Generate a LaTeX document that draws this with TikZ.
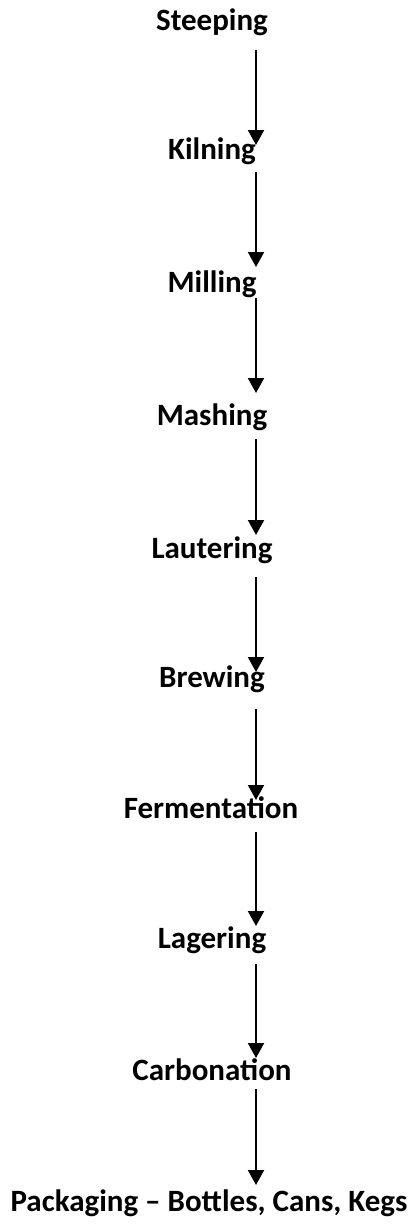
\documentclass[tikz,border=0pt]{standalone}
\usepackage{fontspec}
\setmainfont{Carlito}
\usetikzlibrary{arrows.meta}
\tikzset{
  lbl/.style={font=\fontsize{31bp}{36bp}\selectfont\bfseries, inner sep=0pt, anchor=base},
  flow/.style={line width=2bp, -{Triangle[width=16bp,length=15bp]}}
}
\begin{document}
\begin{tikzpicture}[x=1bp,y=-1bp]
\useasboundingbox (0,0) rectangle (417,1224);
\coordinate (ax) at (256,0);
\node[lbl] (s1) at (212,30) {Steeping};
\node[lbl] (s2) at (212,159) {Kilning};
\node[lbl] (s3) at (212,292) {Milling};
\node[lbl] (s4) at (212,425) {Mashing};
\node[lbl] (s5) at (212,558) {Lautering};
\node[lbl] (s6) at (212,687) {Brewing};
\node[lbl] (s7) at (211,818) {Fermentation};
\node[lbl] (s8) at (212,948) {Lagering};
\node[lbl] (s9) at (212,1080) {Carbonation};
\node[lbl] (s10) at (209,1211) {Packaging – Bottles, Cans, Kegs};
\draw[flow] ([yshift=-20bp]s1.base -| ax) -- ([yshift=14bp]s2.base -| ax);
\draw[flow] ([yshift=-13bp]s2.base -| ax) -- ([yshift=25bp]s3.base -| ax);
\draw[flow] ([yshift=-6bp]s3.base -| ax) -- ([yshift=32bp]s4.base -| ax);
\draw[flow] ([yshift=-14bp]s4.base -| ax) -- ([yshift=23bp]s5.base -| ax);
\draw[flow] ([yshift=-19bp]s5.base -| ax) -- ([yshift=15bp]s6.base -| ax);
\draw[flow] ([yshift=-22bp]s6.base -| ax) -- ([yshift=18bp]s7.base -| ax);
\draw[flow] ([yshift=-14bp]s7.base -| ax) -- ([yshift=22bp]s8.base -| ax);
\draw[flow] ([yshift=-16bp]s8.base -| ax) -- ([yshift=22bp]s9.base -| ax);
\draw[flow] ([yshift=-9bp]s9.base -| ax) -- ([yshift=26bp]s10.base -| ax);
\end{tikzpicture}
\end{document}
